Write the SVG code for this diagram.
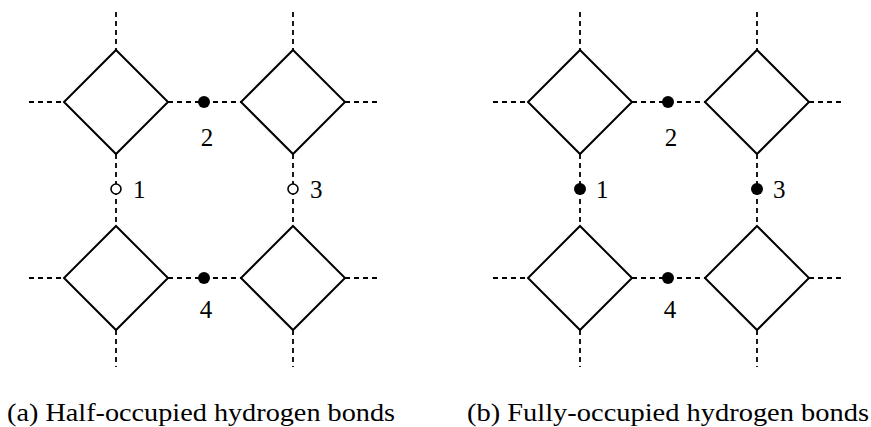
<svg xmlns="http://www.w3.org/2000/svg" width="871" height="427" viewBox="0 0 871 427">
<style>
.d{fill:#fff;stroke:#000;stroke-width:2;stroke-linejoin:miter}
.c line{stroke:#000;stroke-width:1.8;stroke-dasharray:5 4}
.full{fill:#000}
.open{fill:#fff;stroke:#000;stroke-width:1.6}
.lbl{font-size:25px}
.cap{font-size:26px}
</style>
<defs>
<polygon id="dia" points="0,-52 52,0 0,52 -52,0"/>
</defs>
<g id="connectors" class="c">
<line x1="116" y1="12" x2="116" y2="50"/>
<line x1="293" y1="12" x2="293" y2="50"/>
<line x1="29" y1="102" x2="64" y2="102"/>
<line x1="168" y1="102" x2="241" y2="102"/>
<line x1="345" y1="102" x2="380" y2="102"/>
<line x1="116" y1="154" x2="116" y2="226"/>
<line x1="293" y1="154" x2="293" y2="226"/>
<line x1="29" y1="278" x2="64" y2="278"/>
<line x1="168" y1="278" x2="241" y2="278"/>
<line x1="345" y1="278" x2="380" y2="278"/>
<line x1="116" y1="330" x2="116" y2="367"/>
<line x1="293" y1="330" x2="293" y2="367"/>
<line x1="580" y1="12" x2="580" y2="50"/>
<line x1="757" y1="12" x2="757" y2="50"/>
<line x1="493" y1="102" x2="528" y2="102"/>
<line x1="632" y1="102" x2="705" y2="102"/>
<line x1="809" y1="102" x2="844" y2="102"/>
<line x1="580" y1="154" x2="580" y2="226"/>
<line x1="757" y1="154" x2="757" y2="226"/>
<line x1="493" y1="278" x2="528" y2="278"/>
<line x1="632" y1="278" x2="705" y2="278"/>
<line x1="809" y1="278" x2="844" y2="278"/>
<line x1="580" y1="330" x2="580" y2="367"/>
<line x1="757" y1="330" x2="757" y2="367"/>
</g>
<g id="a-diamond-tl"><use href="#dia" class="d" x="116" y="102"/></g>
<g id="a-diamond-tr"><use href="#dia" class="d" x="293" y="102"/></g>
<g id="a-diamond-bl"><use href="#dia" class="d" x="116" y="278"/></g>
<g id="a-diamond-br"><use href="#dia" class="d" x="293" y="278"/></g>
<g font-family="'Liberation Serif', 'Times New Roman', serif" fill="#000">
<g id="a-site-1"><circle class="open" cx="116" cy="189" r="5"/><text class="lbl" x="133" y="198">1</text></g>
<g id="a-site-2"><circle class="full" cx="204" cy="102" r="6"/><text class="lbl" x="207" y="146" text-anchor="middle">2</text></g>
<g id="a-site-3"><circle class="open" cx="293" cy="189" r="5"/><text class="lbl" x="310" y="198">3</text></g>
<g id="a-site-4"><circle class="full" cx="204" cy="278" r="6"/><text class="lbl" x="206" y="318" text-anchor="middle">4</text></g>
</g>
<g id="b-diamond-tl"><use href="#dia" class="d" x="580" y="102"/></g>
<g id="b-diamond-tr"><use href="#dia" class="d" x="757" y="102"/></g>
<g id="b-diamond-bl"><use href="#dia" class="d" x="580" y="278"/></g>
<g id="b-diamond-br"><use href="#dia" class="d" x="757" y="278"/></g>
<g font-family="'Liberation Serif', 'Times New Roman', serif" fill="#000">
<g id="b-site-1"><circle class="full" cx="580" cy="189" r="6"/><text class="lbl" x="596" y="198">1</text></g>
<g id="b-site-2"><circle class="full" cx="668" cy="102" r="6"/><text class="lbl" x="671" y="146" text-anchor="middle">2</text></g>
<g id="b-site-3"><circle class="full" cx="757" cy="189" r="6"/><text class="lbl" x="773" y="198">3</text></g>
<g id="b-site-4"><circle class="full" cx="668" cy="278" r="6"/><text class="lbl" x="670" y="318" text-anchor="middle">4</text></g>
</g>
<g id="captions" font-family="'Liberation Serif', 'Times New Roman', serif" fill="#000">
<text class="cap" x="7" y="421" textLength="388" lengthAdjust="spacingAndGlyphs">(a) Half-occupied hydrogen bonds</text>
<text class="cap" x="467" y="421" textLength="402" lengthAdjust="spacingAndGlyphs">(b) Fully-occupied hydrogen bonds</text>
</g>
</svg>
